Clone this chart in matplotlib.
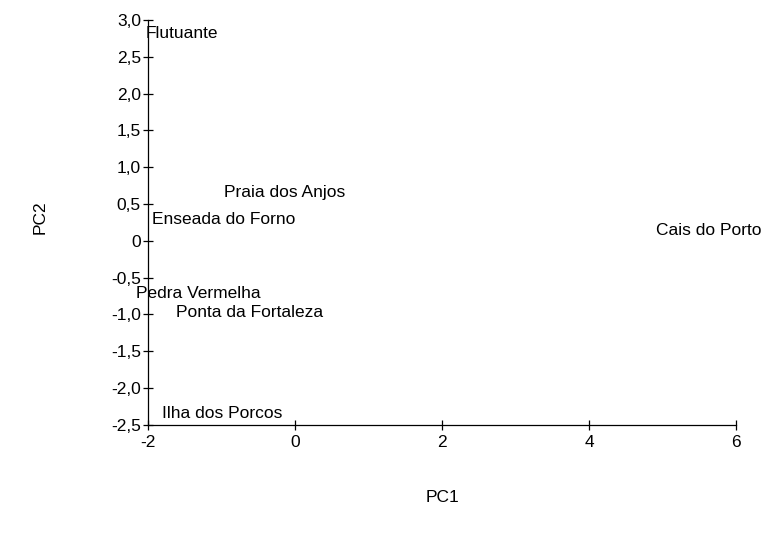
import matplotlib.pyplot as plt

plt.rcParams['font.family'] = ['Liberation Sans', 'DejaVu Sans']

# site labels and their PCA scores (PC1, PC2)
sites = ["Flutuante", "Praia dos Anjos", "Enseada do Forno", "Cais do Porto",
         "Pedra Vermelha", "Ponta da Fortaleza", "Ilha dos Porcos"]
pc1 = [-1.54, -0.14, -0.97, 5.63, -1.32, -0.61, -0.99]
pc2 = [2.81, 0.65, 0.29, 0.14, -0.71, -0.97, -2.34]

xticks = [-2, 0, 2, 4, 6]
yticks = [-2.5, -2.0, -1.5, -1.0, -0.5, 0, 0.5, 1.0, 1.5, 2.0, 2.5, 3.0]
ytick_labels = ["-2,5", "-2,0", "-1,5", "-1,0", "-0,5", "0",
                "0,5", "1,0", "1,5", "2,0", "2,5", "3,0"]

fs = 12.5

fig = plt.figure(figsize=(7.62, 5.33), dpi=100)
ax = fig.add_axes([0.194, 0.203, 0.772, 0.7595])

for name, x, y in zip(sites, pc1, pc2):
    ax.text(x, y, name, ha='center', va='center', fontsize=fs, clip_on=False)

ax.set_xlim(-2, 6)
ax.set_ylim(-2.5, 3.0)
ax.set_xticks(xticks)
ax.set_xticklabels([str(t) for t in xticks])
ax.set_yticks(yticks)
ax.set_yticklabels(ytick_labels)

for side in ['top', 'right']:
    ax.spines[side].set_visible(False)
for side in ['left', 'bottom']:
    ax.spines[side].set_linewidth(0.9)
ax.tick_params(direction='inout', length=7, width=0.9, labelsize=fs, pad=1.5)
ax.tick_params(axis='x', pad=4)

fig.text(0.581, 0.066, "PC1", ha='center', va='center', fontsize=fs)
fig.text(0.053, 0.593, "PC2", ha='center', va='center', fontsize=fs, rotation=90)

fig.savefig("out.png", dpi=100)
